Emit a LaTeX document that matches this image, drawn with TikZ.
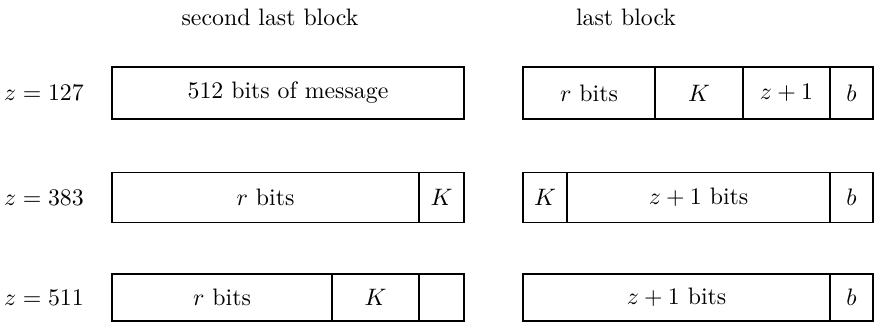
\documentclass[tikz,border=0pt]{standalone}
\usepackage{graphicx}
\newcommand\sctxt[1]{\scalebox{2.38}{#1}}
\begin{document}
\begin{tikzpicture}[x=1pt,y=-1pt,
  every node/.style={font=\fontsize{10}{12}\selectfont},
  cell/.style={draw, line width=1.6pt, rectangle, inner sep=0pt, outer sep=0pt},
  lbl/.style={inner sep=0pt}]
\useasboundingbox (0,0) rectangle (874,324);
% headings
\node[lbl] (h1) at (270,17) {\sctxt{second last block}};
\node[lbl] (h2) at (626,17) {\sctxt{last block}};
% row labels
\node[lbl] (z1) at (44,93) {\sctxt{$z=127$}};
\node[lbl] (z2) at (44,197.5) {\sctxt{$z=383$}};
\node[lbl] (z3) at (44,297.5) {\sctxt{$z=511$}};
% row 1
\node[cell, minimum width=352, minimum height=52] (l11) at (288,93) {\sctxt{512 bits of message}};
\node[cell, minimum width=132, minimum height=52] (r11) at (589,93) {\sctxt{$r$ bits}};
\node[cell, minimum width=88, minimum height=52] (r12) at (699,93) {\sctxt{$K$}};
\node[cell, minimum width=87, minimum height=52] (r13) at (786.5,93) {\sctxt{$z+1$}};
\node[cell, minimum width=43, minimum height=52] (r14) at (851.5,93) {\sctxt{$b$}};
% row 2
\node[cell, minimum width=307, minimum height=50] (l21) at (265.5,197.5) {\sctxt{$r$ bits}};
\node[cell, minimum width=45, minimum height=50] (l22) at (441.5,197.5) {\sctxt{$K$}};
\node[cell, minimum width=44, minimum height=50] (r21) at (545,197.5) {\sctxt{$K$}};
\node[cell, minimum width=263, minimum height=50] (r22) at (698.5,197.5) {\sctxt{$z+1$ bits}};
\node[cell, minimum width=43, minimum height=50] (r23) at (851.5,197.5) {\sctxt{$b$}};
% row 3
\node[cell, minimum width=220, minimum height=47] (l31) at (222,297.5) {\sctxt{$r$ bits}};
\node[cell, minimum width=87, minimum height=47] (l32) at (375.5,297.5) {\sctxt{$K$}};
\node[cell, minimum width=45, minimum height=47] (l33) at (441.5,297.5) {};
\node[cell, minimum width=307, minimum height=47] (r31) at (676.5,297.5) {\sctxt{$z+1$ bits}};
\node[cell, minimum width=43, minimum height=47] (r32) at (851.5,297.5) {\sctxt{$b$}};
\end{tikzpicture}
\end{document}
